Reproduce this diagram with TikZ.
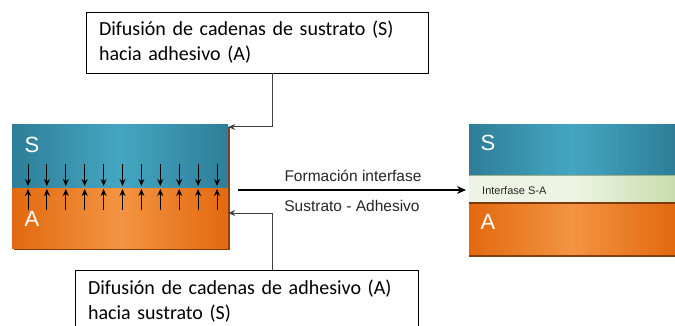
\documentclass[tikz,border=0pt]{standalone}
\usepackage{fontspec}
\setmainfont{Liberation Sans}
\newfontfamily\boxfont{Carlito}
\usetikzlibrary{arrows.meta,calc}
\definecolor{tealD}{HTML}{2E7E98}
\definecolor{tealM}{HTML}{45A6C2}
\definecolor{orD}{HTML}{E2690F}
\definecolor{orM}{HTML}{F39442}
\definecolor{intD}{HTML}{C9DCAE}
\definecolor{intM}{HTML}{EEF4E4}
\definecolor{conn}{HTML}{404040}
\tikzset{
  sLayer/.style={rectangle, inner sep=0pt, left color=tealD, right color=tealD, middle color=tealM},
  aLayer/.style={rectangle, inner sep=0pt, left color=orD, right color=orD, middle color=orM},
  iLayer/.style={rectangle, inner sep=0pt, left color=intM, right color=intD, middle color=intM},
  lbl/.style={text=white, font=\fontsize{22}{22}\selectfont, inner sep=0pt},
  txtbox/.style={draw=black, line width=0.8pt, fill=white, align=left, inner sep=0pt,
     font=\boxfont\fontsize{20}{25}\selectfont},
  smallarr/.style={-{Stealth[length=7pt,width=6pt]}, line width=1pt, black},
  connarr/.style={-{Stealth[length=7pt,width=6pt]}, line width=1pt, conn},
  midtxt/.style={font=\fontsize{15.5}{15.5}\selectfont, text=black!85, inner sep=0pt}
}
\begin{document}
\begin{tikzpicture}[x=1pt,y=-1pt]
\useasboundingbox (0,0) rectangle (675,326);
\clip (0,0) rectangle (675,326);
\fill[white] (0,0) rectangle (675,326);
% left block shadow
\fill[orD!60!black] (14,127) rectangle (230,250);
\node[sLayer, minimum width=216pt, minimum height=64pt] (S1) at (120,157) {};
\node[aLayer, minimum width=216pt, minimum height=59pt] (A1) at (120,218.5) {};
\node[lbl] (S1l) at (32,145) {S};
\node[lbl] (A1l) at (32,219) {A};
% small arrows
\foreach \i in {0,...,10} {
  \coordinate (d\i) at ({28+\i*18.9},164);
  \coordinate (de\i) at ({28+\i*18.9},186);
  \coordinate (u\i) at ({28+\i*18.9},210);
  \coordinate (ue\i) at ({28+\i*18.9},189);
  \draw[smallarr] (d\i) -- (de\i);
  \draw[smallarr] (u\i) -- (ue\i);
}
% right block
\node[sLayer, minimum width=206pt, minimum height=51pt] (S2) at (572,150.5) {};
\node[iLayer, minimum width=206pt, minimum height=27pt] (I2) at (572,189.5) {};
\draw[intD!80!black, line width=0.8pt] (I2.north west) -- (I2.north east);
\node[aLayer, minimum width=206pt, minimum height=53pt] (A2) at (572,229.5) {};
\draw[orD!55!black, line width=1.5pt] (A2.north west) -- (A2.north east);
\draw[orD!60!black, line width=1.5pt] (A2.south west) -- (A2.south east);
\node[lbl] (S2l) at (488,143) {S};
\node[lbl] (A2l) at (488,222) {A};
\node[font=\fontsize{11}{11}\selectfont, inner sep=0pt, anchor=west, text=black!85] (I2l) at (482,191) {Interfase S-A};
% middle arrow
\coordinate (ms) at (238,190);
\coordinate (me) at (466,190);
\draw[-{Stealth[length=9pt,width=8pt]}, line width=2pt, black] (ms) -- (me);
\node[midtxt] (f1) at (353,176) {Formación interfase};
\node[midtxt] (f2) at (352,206) {Sustrato - Adhesivo};
% text boxes
\node[txtbox, minimum width=342pt, minimum height=61pt, text width=316pt] (T) at (257,42.5)
  {Difusión de cadenas de sustrato (S)\\hacia adhesivo (A)};
\node[txtbox, minimum width=343pt, minimum height=62pt, text width=317pt] (B) at (246.5,301)
  {Difusión de cadenas de adhesivo (A)\\hacia sustrato (S)};
% connectors
\coordinate (tc) at (272,127);
\coordinate (bc) at (272,213);
\draw[connarr] (T.south -| tc) -- (tc) -- (tc -| S1.east);
\draw[connarr] (B.north -| bc) -- (bc) -- (bc -| A1.east);
\end{tikzpicture}
\end{document}
